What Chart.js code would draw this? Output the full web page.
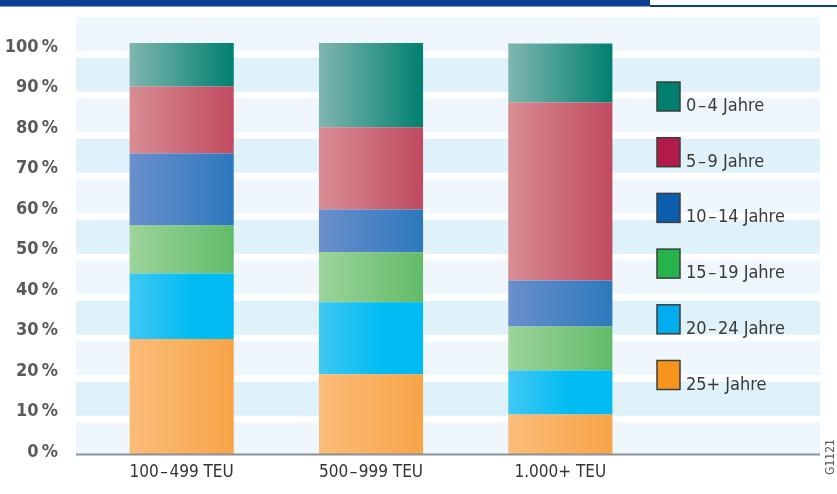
<!doctype html>
<html lang="de">

<head>
    <meta charset="utf-8">
    <title>Altersstruktur Containerschiffe</title>
    <script src="https://cdn.jsdelivr.net/npm/chart.js"></script>
    <style>
        html, body { margin: 0; padding: 0; background: #fff; }
        .chartBox { position: relative; width: 837px; height: 494px; }
    </style>
</head>

<body>
    <div class="chartBox">
        <canvas id="myChart"></canvas>
    </div>

    <script>
        // setup
        const categories = ['100\u200A–\u200A499 TEU', '500\u200A–\u200A999 TEU', '1.000+ TEU'];
        const yTicks = [0, 10, 20, 30, 40, 50, 60, 70, 80, 90, 100];

        // share in %, stacked from the bottom up
        const age25plus = [28.0, 19.4, 9.6];
        const age20to24 = [15.9, 17.5, 10.7];
        const age15to19 = [11.7, 12.2, 10.7];
        const age10to14 = [17.5, 10.4, 11.2];
        const age5to9 = [16.3, 20.0, 43.3];
        const age0to4 = [10.7, 20.6, 14.4];

        const FONT = "'Liberation Sans Narrow', 'DejaVu Sans Condensed', 'Liberation Sans', sans-serif";
        const BAR_PCT = 0.55;

        // horizontal gradient across each bar
        function barGradient(stops, solid) {
            return function (ctx) {
                const chart = ctx.chart;
                const xs = chart.scales.x;
                if (!xs || !chart.chartArea || ctx.type !== 'data') return solid;
                const w = (xs.width / categories.length) * BAR_PCT;
                const cx = xs.getPixelForValue(ctx.dataIndex);
                const g = chart.ctx.createLinearGradient(cx - w / 2, 0, cx + w / 2, 0);
                stops.forEach(s => g.addColorStop(s[0], s[1]));
                return g;
            };
        }

        const data = {
            labels: categories,
            datasets: [
                { label: '25+ Jahre', data: age25plus, legendColor: '#f7941d',
                  backgroundColor: barGradient([[0, '#fbbc7a'], [1, '#f7a447']], '#f9ae5f') },
                { label: '20\u200A–\u200A24 Jahre', data: age20to24, legendColor: '#00aeef',
                  backgroundColor: barGradient([[0, '#40c8f2'], [0.6, '#00bcf3'], [1, '#00bbf3']], '#1fc2f2') },
                { label: '15\u200A–\u200A19 Jahre', data: age15to19, legendColor: '#27b34b',
                  backgroundColor: barGradient([[0, '#9dd49b'], [1, '#62bb69']], '#80c782') },
                { label: '10\u200A–\u200A14 Jahre', data: age10to14, legendColor: '#0b5fae',
                  backgroundColor: barGradient([[0, '#6b8fcb'], [1, '#2c78bd']], '#4c84c4') },
                { label: '5\u200A–\u200A9 Jahre', data: age5to9, legendColor: '#b21b4a',
                  backgroundColor: barGradient([[0, '#d88d93'], [1, '#c04a61']], '#cc6c7a') },
                { label: '0\u200A–\u200A4 Jahre', data: age0to4, legendColor: '#007f6e',
                  backgroundColor: barGradient([[0, '#80b6b0'], [1, '#00806f']], '#409b90') }
            ]
        };

        // background bands, header line, axis line
        const decor = {
            id: 'decor',
            beforeDraw(chart) {
                const c = chart.ctx, area = chart.chartArea, yl = chart.scales.yl;
                c.save();
                c.fillStyle = '#0b3f95';
                c.fillRect(0, 0, 650, 6.5);
                c.fillRect(650, 5, chart.width - 650, 2);

                const left = area.left - 11, right = chart.width - 17;
                const gapH = 6.5;
                const gaps = [];
                for (let v = 100; v >= 10; v -= 10) gaps.push(yl.getPixelForValue(v) + 7.5);
                let top = yl.getPixelForValue(100) - 30;
                for (let i = 0; i <= gaps.length; i++) {
                    const bottom = i < gaps.length ? gaps[i] - gapH / 2 : area.bottom;
                    c.fillStyle = i % 2 === 0 ? '#eff7fd' : '#dff2fa';
                    c.fillRect(left, top, right - left, bottom - top);
                    if (i < gaps.length) top = gaps[i] + gapH / 2;
                }
                c.restore();
            },
            afterDatasetsDraw(chart) {
                const c = chart.ctx, area = chart.chartArea;
                c.save();
                c.fillStyle = '#8a9299';
                c.fillRect(area.left - 11, area.bottom - 0.5, chart.width - 17 - area.left + 11, 2);
                c.restore();
            },
            afterDraw(chart) {
                const c = chart.ctx, area = chart.chartArea;
                c.save();
                // legend: top item is the last dataset
                const sets = chart.data.datasets.slice().reverse();
                sets.forEach((ds, j) => {
                    const x = area.right + 2;
                    const y = area.top + 39 + j * 55.7;
                    c.fillStyle = ds.legendColor;
                    c.fillRect(x, y, 23, 29);
                    c.strokeStyle = '#3d3d3d';
                    c.lineWidth = 1.5;
                    c.strokeRect(x, y, 23, 29);
                    c.fillStyle = '#3a3a3a';
                    c.font = '18px ' + FONT;
                    c.textAlign = 'left';
                    c.textBaseline = 'alphabetic';
                    c.fillText(ds.label, x + 29, y + 29);
                });
                // chart id
                c.translate(831, 457);
                c.rotate(-Math.PI / 2);
                c.fillStyle = '#555';
                c.font = '12px ' + FONT;
                c.textAlign = 'center';
                c.textBaseline = 'middle';
                c.fillText('G1121', 0, 0);
                c.restore();
            }
        };

        // config
        const config = {
            type: 'bar',
            data,
            options: {
                responsive: true,
                maintainAspectRatio: false,
                animation: false,
                layout: { padding: { left: 0, right: 182, top: 43, bottom: 0 } },
                datasets: {
                    bar: { barPercentage: BAR_PCT, categoryPercentage: 1, borderWidth: 0 }
                },
                plugins: { legend: { display: false }, tooltip: { enabled: false } },
                scales: {
                    x: {
                        stacked: true,
                        grid: { display: false, drawTicks: false },
                        border: { display: false },
                        ticks: { color: '#333', font: { family: FONT, size: 17 }, padding: 8 },
                        afterFit(scale) { scale.height = 40; }
                    },
                    y: {
                        stacked: true,
                        display: false,
                        min: 0,
                        max: 100
                    },
                    yl: {
                        position: 'left',
                        min: -0.49,
                        max: 100.99,
                        grid: { display: false, drawTicks: false },
                        border: { display: false },
                        afterBuildTicks(scale) { scale.ticks = yTicks.map(v => ({ value: v })); },
                        ticks: {
                            color: '#5a5a5a',
                            padding: 29,
                            font: { family: FONT, size: 18, weight: 'bold' },
                            callback: v => v + '\u2009%'
                        },
                        afterFit(scale) { scale.width = 87; }
                    }
                }
            },
            plugins: [decor]
        };

        // render init block
        const myChart = new Chart(document.getElementById('myChart'), config);
    </script>
</body>

</html>
